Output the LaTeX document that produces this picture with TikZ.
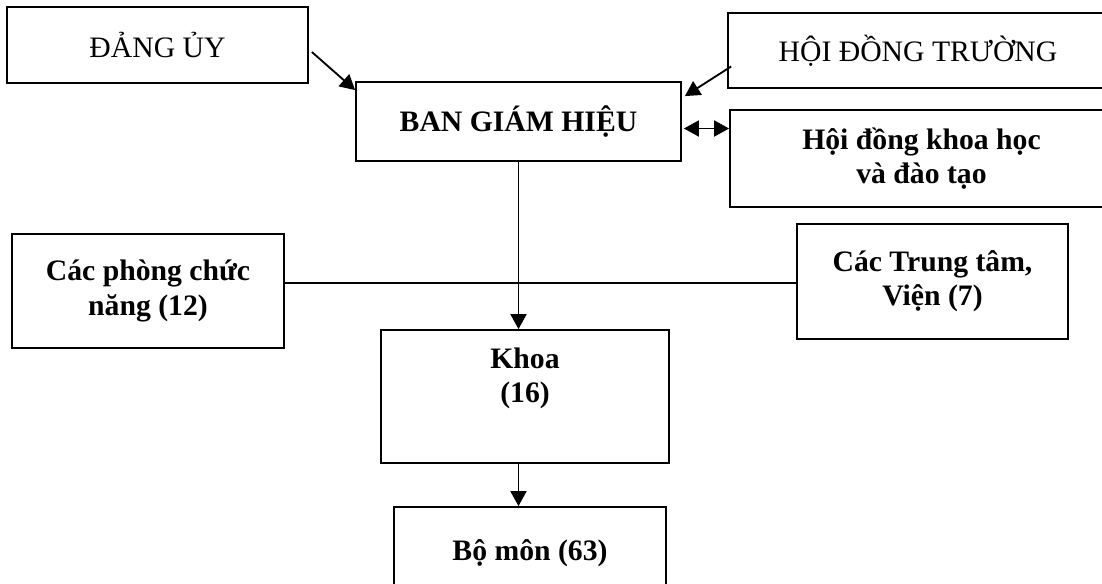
\documentclass[tikz,border=0pt]{standalone}
\usepackage{fontspec}
\setmainfont{Liberation Serif}
\usetikzlibrary{arrows.meta}
\tikzset{
  hop/.style={draw,line width=1.05pt,inner sep=0pt,align=center,font=\fontsize{16.9}{19.5}\selectfont},
  hopdam/.style={hop,font=\fontsize{16.9}{19.5}\selectfont\bfseries},
  noi/.style={line width=1.05pt,>={Triangle[length=3mm,width=3.2mm]}},
}

\begin{document}
\begin{tikzpicture}[x=0.02cm,y=-0.02cm]
    \useasboundingbox (0,0) rectangle (1102,583);
    \node[hop,minimum width=6.02cm,minimum height=1.52cm] (dangUy) at (157.5,45) {ĐẢNG ỦY};
    \node[hop,minimum width=7.6cm,minimum height=1.5cm] (hoiDong) at (918,50.5) {HỘI ĐỒNG TRƯỜNG};
    \node[hopdam,minimum width=6.5cm,minimum height=1.58cm] (banGH) at (518.5,121.5) {BAN GIÁM HIỆU};
    \node[hopdam,minimum width=7.66cm,minimum height=1.94cm] (hdKhoaHoc) at (921.5,158.5) {Hội đồng khoa học\\ và đào tạo};
    \node[hopdam,minimum width=5.44cm,minimum height=2.28cm] (phong) at (148,291) {Các phòng chức\\ năng (12)};
    \node[hopdam,minimum width=5.42cm,minimum height=2.3cm] (trungTam) at (932.5,281.5) {Các Trung tâm,\\ Viện (7)};
    \node[hopdam] (khoa) at (525,396.5) {\parbox[c][2.66cm][t]{5.76cm}{\centering\rule{0pt}{0.76cm}Khoa\\ (16)}};
    \node[hopdam,minimum width=5.44cm,minimum height=1.86cm] (boMon) at (530,553.5) {Bộ môn (63)};
    \coordinate (ngang) at (0,283);
    \draw[noi,->] ([xshift=0.06cm,yshift=-0.14cm]dangUy.east) -- ([yshift=-0.18cm]banGH.north west);
    \draw[noi,->] ([xshift=0.08cm,yshift=-0.32cm]hoiDong.west) -- ([xshift=0.06cm,yshift=-0.3cm]banGH.north east);
    \draw[noi,<->] ([xshift=0.04cm,yshift=-0.14cm]banGH.east) -- ([yshift=-0.14cm]banGH.east -| hdKhoaHoc.west);
    \draw[noi] (phong.east |- ngang) -- (trungTam.west |- ngang);
    \draw[noi,->] (banGH.south) -- (banGH.south |- khoa.north);
    \draw[noi,->] (khoa.south -| banGH.south) -- (boMon.north -| banGH.south);
\end{tikzpicture}
\end{document}
